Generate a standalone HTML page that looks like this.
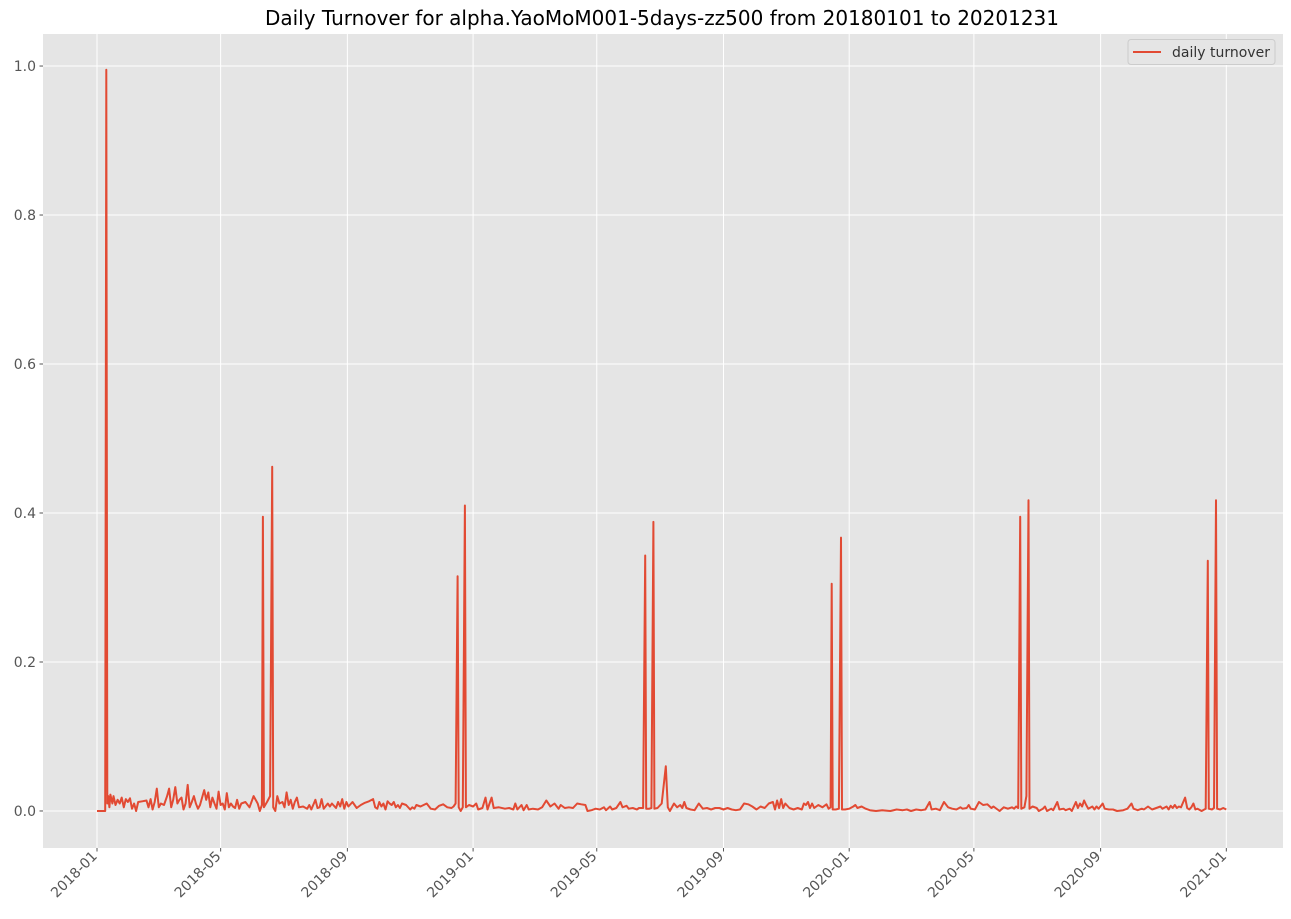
<!DOCTYPE html>
<html><head><meta charset="utf-8"><style>
html,body{margin:0;padding:0;background:#fff;}
svg{display:block;font-family:"DejaVu Sans","Liberation Sans",sans-serif;}
</style></head><body>
<svg id="chart" width="1291" height="919" viewBox="0 0 1291 919">
<text x="662" y="25" text-anchor="middle" font-size="20" fill="#000">Daily Turnover for alpha.YaoMoM001-5days-zz500 from 20180101 to 20201231</text>
<rect x="43" y="34" width="1240" height="814" fill="#e5e5e5"/>
<g id="grid"></g><g id="ticks"></g><g id="series"></g>
<g>
<rect x="1128" y="39.5" width="147" height="25" rx="3" fill="#e5e5e5" stroke="#cccccc" stroke-width="1"/>
<line x1="1133" y1="52" x2="1161" y2="52" stroke="#E24A33" stroke-width="2"/>
<text x="1172" y="57" font-size="14" fill="#333">daily turnover</text>
</g>
</svg>
<script>
const days=[0,8,9,10,11,12,13,15,16,18,20,22,24,26,28,30,32,34,36,38,40,44,48,50,52,54,56,58,60,62,65,68,70,72,74,76,78,80,82,84,86,88,90,92,94,96,98,100,104,106,108,110,112,114,116,118,120,122,124,126,128,130,132,134,136,138,140,144,148,152,156,158,160,161,162,165,168,170,171,173,175,177,180,182,184,186,188,190,192,194,196,200,204,206,208,212,214,216,218,220,224,226,228,232,234,236,238,240,242,244,248,252,256,260,264,268,270,272,274,276,278,280,282,284,286,288,290,292,294,296,300,304,306,308,310,314,320,324,328,332,336,340,344,346,348,350,351,353,355,357,358,361,365,
368,370,374,377,379,383,385,390,396,400,404,406,408,412,414,417,419,423,428,432,436,440,444,448,450,454,458,462,466,470,474,476,480,484,488,492,494,498,500,504,508,510,514,516,520,524,526,530,532,533,536,538,540,541,544,548,552,554,556,560,563,566,568,570,572,576,580,584,588,592,596,600,604,608,612,616,620,624,628,632,636,640,644,648,652,656,658,660,662,664,666,668,672,676,680,684,686,688,690,692,694,696,700,704,708,710,712,713,714,717,720,722,723,726,730,
734,736,738,742,746,750,756,762,770,776,782,786,790,795,800,804,808,810,814,818,822,826,830,834,838,840,844,846,848,852,856,860,864,868,870,872,876,880,884,888,890,892,894,896,897,900,902,904,905,908,912,914,918,920,922,926,928,932,934,938,940,944,946,950,952,954,956,958,960,962,966,968,970,972,976,978,982,986,990,996,1000,1004,1006,1010,1014,1016,1020,1024,1028,1032,1034,1038,1040,1042,1044,1046,1048,1050,1052,1056,1058,1060,1062,1064,1066,1068,1072,1076,1078,1079,1082,1084,1086,1087,1090,1093,1096];
const turnover=[0,0,0.995,0.01,0.02,0.005,0.022,0.01,0.02,0.008,0.015,0.01,0.018,0.005,0.016,0.012,0.017,0.003,0.01,0,0.012,0.013,0.014,0.005,0.016,0.002,0.012,0.03,0.005,0.01,0.008,0.02,0.03,0.005,0.015,0.032,0.01,0.015,0.018,0.002,0.01,0.035,0.005,0.012,0.02,0.01,0.003,0.008,0.028,0.015,0.025,0.005,0.018,0.01,0.003,0.026,0.008,0.01,0.002,0.024,0.005,0.01,0.006,0.004,0.015,0.003,0.01,0.012,0.005,0.02,0.01,0,0.008,0.395,0.005,0.012,0.02,0.462,0.005,0,0.02,0.01,0.012,0.005,0.025,0.008,0.015,0.003,0.012,0.018,0.005,0.006,0.003,0.008,0.002,0.015,0.004,0.005,0.016,0.003,0.01,0.006,0.01,0.004,0.012,0.006,0.016,0.003,0.012,0.006,0.012,0.004,0.008,0.011,0.013,0.016,0.005,0.003,0.012,0.006,0.01,0.002,0.013,0.01,0.008,0.012,0.005,0.008,0.004,0.01,0.008,0.002,0.005,0.003,0.008,0.006,0.01,0.003,0.002,0.007,0.009,0.005,0.004,0.006,0.01,0.315,0.005,0,0.005,0.41,0.005,0.008,0.006,
0.01,0.002,0.004,0.018,0.002,0.018,0.004,0.005,0.003,0.004,0.002,0.01,0.002,0.008,0.001,0.008,0.002,0.003,0.002,0.005,0.014,0.006,0.01,0.003,0.008,0.004,0.005,0.004,0.01,0.009,0.008,0,0.001,0.003,0.002,0.005,0.001,0.006,0.002,0.004,0.012,0.005,0.007,0.003,0.004,0.002,0.004,0.004,0.343,0.003,0.003,0.004,0.388,0.003,0.004,0.01,0.06,0.005,0,0.01,0.005,0.008,0.004,0.012,0.004,0.002,0.001,0.01,0.003,0.004,0.002,0.004,0.004,0.002,0.004,0.002,0.001,0.002,0.01,0.009,0.006,0.002,0.006,0.004,0.01,0.012,0.002,0.014,0.004,0.016,0.004,0.01,0.004,0.002,0.004,0.002,0.01,0.008,0.012,0.004,0.01,0.004,0.008,0.005,0.009,0.003,0.005,0.305,0.002,0.002,0.003,0.367,0.002,0.002,0.003,
0.006,0.008,0.004,0.006,0.003,0.001,0,0.001,0,0.002,0.001,0.002,0,0.002,0.001,0.002,0.012,0.002,0.003,0.001,0.012,0.005,0.003,0.002,0.005,0.003,0.004,0.008,0.003,0.002,0.012,0.008,0.009,0.004,0.006,0.004,0,0.005,0.003,0.005,0.003,0.006,0.004,0.395,0.003,0.005,0.02,0.417,0.003,0.006,0.004,0,0.003,0.006,0,0.003,0.001,0.012,0.002,0.003,0.001,0.003,0,0.012,0.004,0.01,0.006,0.014,0.008,0.003,0.006,0.002,0.006,0.003,0.01,0.003,0.002,0.002,0,0.001,0.003,0.01,0.003,0.001,0.003,0.002,0.006,0.002,0.004,0.006,0.003,0.006,0.002,0.007,0.004,0.008,0.004,0.006,0.005,0.018,0.004,0.002,0.005,0.01,0.002,0.003,0,0.003,0.336,0.003,0.002,0.004,0.417,0.003,0.002,0.004,0.002];
const yTicks=[0,0.2,0.4,0.6,0.8,1.0];
const yTickLabels=["0.0","0.2","0.4","0.6","0.8","1.0"];
const xTickDays=[0,120,243,365,485,608,730,851,974,1096];
const xTickLabels=["2018-01","2018-05","2018-09","2019-01","2019-05","2019-09","2020-01","2020-05","2020-09","2021-01"];

const NS="http://www.w3.org/2000/svg";
const L=43,R=1283,T=34,B=848;
const x0=-52.4,x1=1151,y0=-0.0497,y1=1.043;
const sx=d=>L+(d-x0)/(x1-x0)*(R-L);
const sy=v=>B-(v-y0)/(y1-y0)*(B-T);
function mk(tag,attrs,parent){const e=document.createElementNS(NS,tag);for(const k in attrs)e.setAttribute(k,attrs[k]);parent.appendChild(e);return e;}
const grid=document.getElementById('grid'),ticks=document.getElementById('ticks'),series=document.getElementById('series');
yTicks.forEach((v,i)=>{
  const y=sy(v);
  const g=mk('line',{x1:L,x2:R,y1:y,y2:y,stroke:'#fff','stroke-width':1},grid);
  
  
  const t=mk('line',{x1:L-3.5,x2:L,y1:y,y2:y,stroke:'#555','stroke-width':1},ticks);
  
  
  const tx=mk('text',{x:L-7,y:y+5,'text-anchor':'end','font-size':14,fill:'#555'},ticks);
  tx.textContent=yTickLabels[i];
  
  
});
xTickDays.forEach((d,i)=>{
  const x=sx(d);
  const g=mk('line',{x1:x,x2:x,y1:T,y2:B,stroke:'#fff','stroke-width':1},grid);
  
  
  const t=mk('line',{x1:x,x2:x,y1:B,y2:B+3.5,stroke:'#555','stroke-width':1},ticks);
  
  
  const tx=mk('text',{x:x+1,y:B+9,'text-anchor':'end','font-size':14,fill:'#555',transform:`rotate(-45 ${x+1} ${B+9})`},ticks);
  tx.textContent=xTickLabels[i];
  
  
});
const pts=days.map((d,i)=>sx(d).toFixed(1)+','+sy(turnover[i]).toFixed(1)).join(' ');
const line=mk('polyline',{points:pts,fill:'none',stroke:'#E24A33','stroke-width':2,'stroke-linejoin':'round'},series);


</script>
</body></html>
